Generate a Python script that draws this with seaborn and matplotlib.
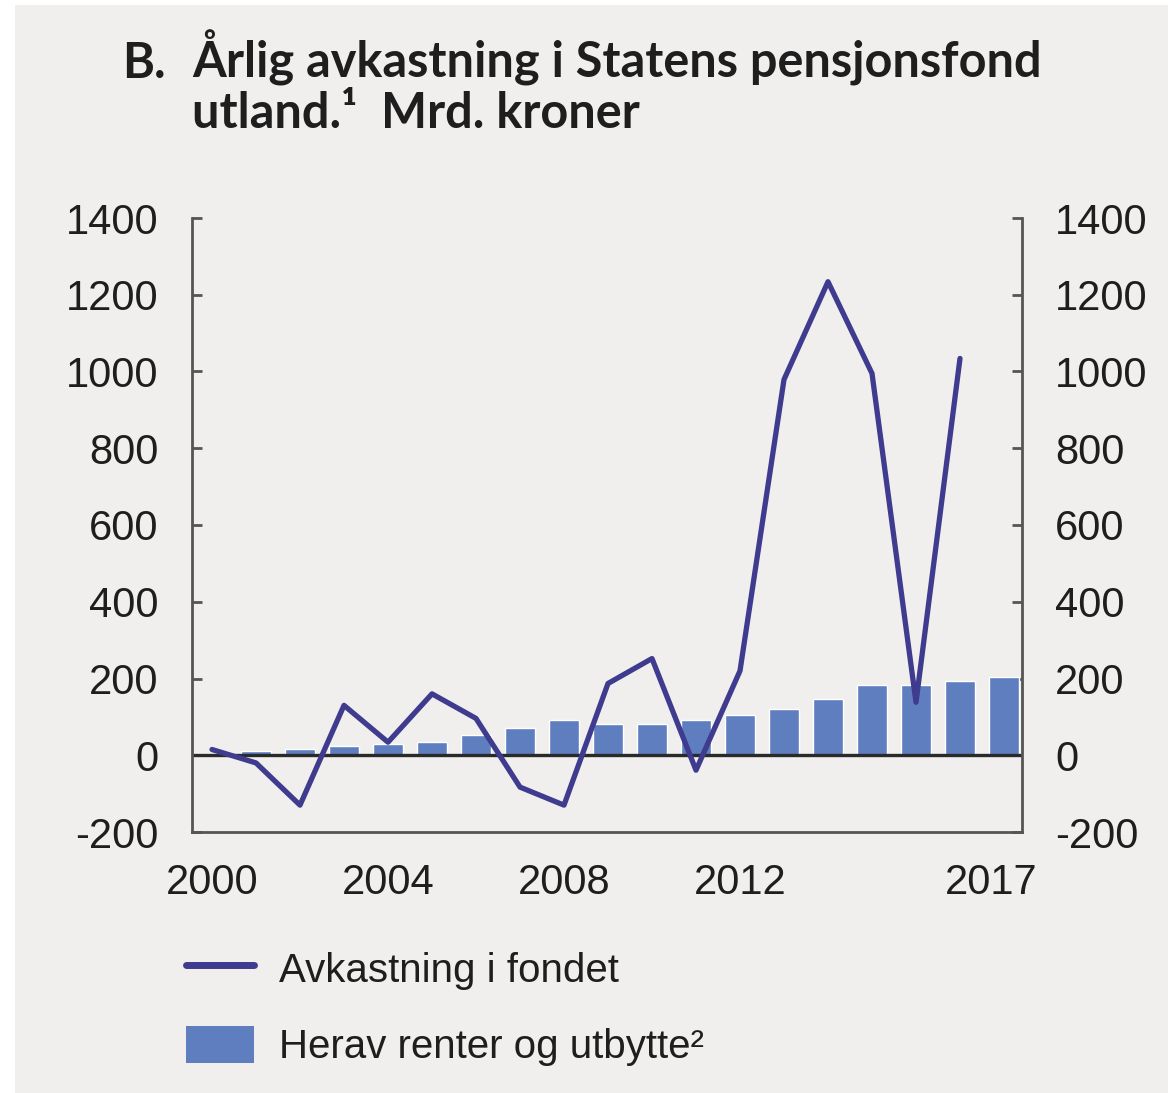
import matplotlib
matplotlib.use("Agg")
import matplotlib.pyplot as plt
import seaborn as sns
import pandas as pd
from matplotlib.patches import Rectangle, Patch
from matplotlib.lines import Line2D

# ---- data ----
bar_years = list(range(2000, 2019))
renter_utbytte = [4, 10, 17, 23, 30, 35, 52, 72, 93, 82, 82, 91, 106, 121, 147, 182, 182, 193, 203]
line_years = list(range(2000, 2018))
avkastning = [15, -20, -130, 130, 34, 160, 96, -83, -130, 187, 252, -39, 220, 979, 1234, 995, 138, 1034]
xtick_pos = [2000, 2004, 2008, 2012, 2017.7]
xtick_labels = ["2000", "2004", "2008", "2012", "2017"]
ytick_vals = [-200, 0, 200, 400, 600, 800, 1000, 1200, 1400]

title_prefix = "B."
title_line1 = "Årlig avkastning i Statens pensjonsfond"
title_line2 = "utland.¹  Mrd. kroner"
legend_line = "Avkastning i fondet"
legend_bar = "Herav renter og utbytte²"

LINE_C = "#3f3b8e"
BAR_C = "#5f7ec0"
BG = "#f0efed"
SPINE = "#555555"
TXT = "#1e1e1e"

sns.set_theme(style="white")
plt.rcParams["font.family"] = ["Liberation Sans", "DejaVu Sans"]

W, H = 1168, 1093
fig = plt.figure(figsize=(W / 100, H / 100), dpi=100)
fig.patch.set_facecolor("white")
fig.add_artist(Rectangle((15 / W, 0), 1 - 15 / W, 1 - 5 / H, transform=fig.transFigure,
                         facecolor=BG, edgecolor="none", zorder=-10))

ax = fig.add_axes([192 / W, 1 - 832 / H, (1022 - 192) / W, (832 - 218) / H])
ax.set_facecolor("none")

df_bar = pd.DataFrame({"year": bar_years, "value": renter_utbytte})
sns.barplot(data=df_bar, x="year", y="value", native_scale=True, width=0.68,
            color=BAR_C, saturation=1, errorbar=None, ax=ax, zorder=2)
ax.axhline(0, color="#2a2a2a", lw=2.4, zorder=2.5)
df_line = pd.DataFrame({"year": line_years, "value": avkastning})
sns.lineplot(data=df_line, x="year", y="value", color=LINE_C, lw=3.8, ax=ax, zorder=3)

ax.set_xlim(2000 - 20 / 44, 2000 + 810 / 44)
ax.set_ylim(-200, 1400)
ax.set_yticks(ytick_vals)
ax.set_yticklabels([str(v) for v in ytick_vals])
ax.set_xticks(xtick_pos)
ax.set_xticklabels(xtick_labels)
ax.set_xlabel("")
ax.set_ylabel("")

ax.spines["top"].set_visible(False)
for s in ["left", "right", "bottom"]:
    ax.spines[s].set_visible(True)
    ax.spines[s].set_color(SPINE)
    ax.spines[s].set_linewidth(2.0)

ax.tick_params(axis="y", which="both", direction="in", length=7, width=2, color=SPINE,
               left=True, right=True, labelleft=True, labelright=True,
               labelsize=30, labelcolor=TXT, pad=24)
ax.tick_params(axis="x", length=0, labelsize=30, labelcolor=TXT, pad=22)

# title
tfam = ["Lato", "DejaVu Sans"]
fig.text(122 / W, 1 - 78 / H, title_prefix, fontsize=35, fontweight="bold",
         family=tfam, color=TXT, va="baseline", ha="left")
fig.text(192 / W, 1 - 78 / H, title_line1, fontsize=35, fontweight="bold",
         family=tfam, color=TXT, va="baseline", ha="left")
fig.text(192 / W, 1 - 128 / H, title_line2, fontsize=35, fontweight="bold",
         family=tfam, color=TXT, va="baseline", ha="left")

handles = [Line2D([0], [0], color=LINE_C, lw=5),
           Patch(facecolor=BAR_C, edgecolor="none")]
leg = fig.legend(handles, [legend_line, legend_bar], loc="upper left",
                 bbox_to_anchor=(170 / W, 1 - 933 / H), frameon=False,
                 fontsize=29, handlelength=1.68, handleheight=1.05,
                 handletextpad=0.62, labelspacing=0.9, borderaxespad=0)
for t in leg.get_texts():
    t.set_color(TXT)

fig.savefig("out.png", dpi=100, facecolor=fig.get_facecolor())
